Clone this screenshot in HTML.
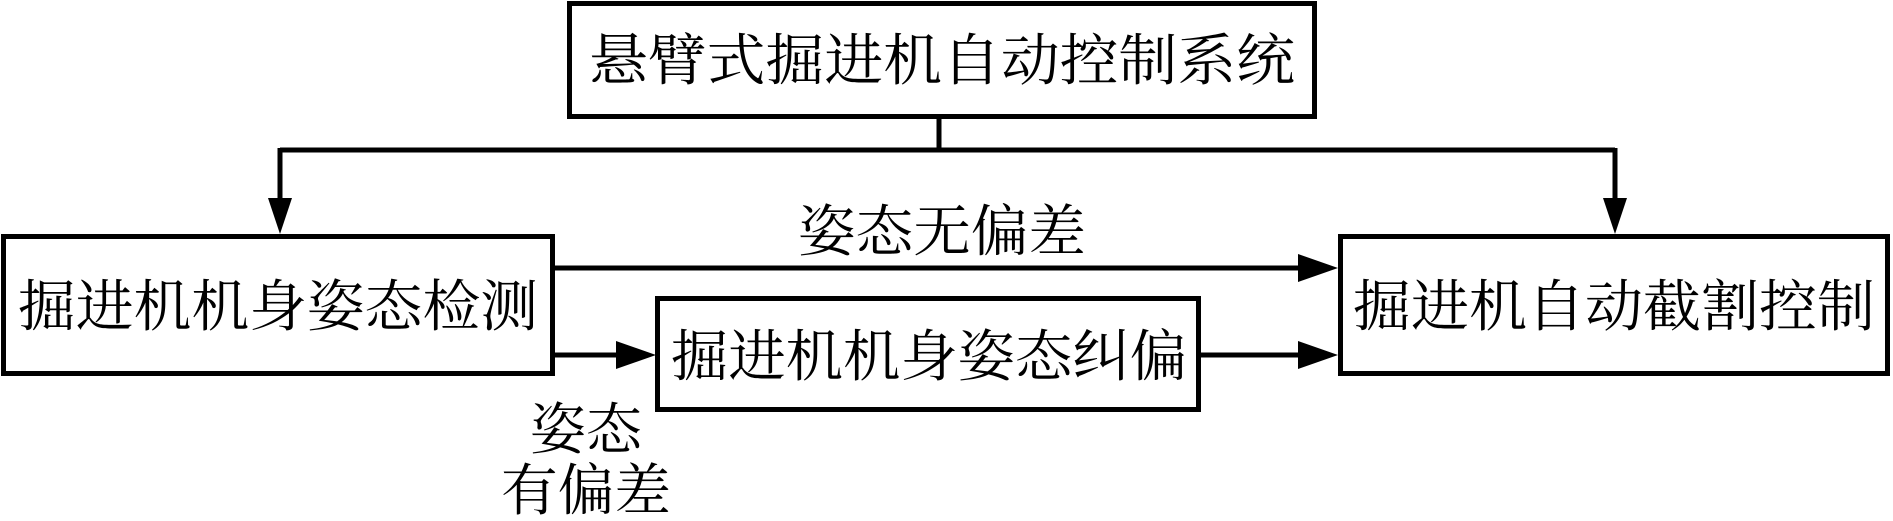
<!DOCTYPE html>
<html><head><meta charset="utf-8"><style>
html,body{margin:0;padding:0;background:#fff;}
svg{display:block}
text{font-family:"Liberation Serif","Noto Serif CJK SC",serif;font-size:56px;fill:#000;}
</style></head><body>
<svg width="1893" height="521" viewBox="0 0 1893 521">
<g fill="none" stroke="#000" stroke-width="5">
<rect x="569.5" y="3.5" width="745" height="113"/>
<rect x="3.5" y="236.5" width="549" height="137"/>
<rect x="1340.5" y="236.5" width="547" height="137"/>
<rect x="657.5" y="298.5" width="541" height="111"/>
<path d="M939 118V150M280 150H1615M280 148V200M1615 148V200"/>
<path d="M553 268H1300M553 355H620M1199 355H1300"/>
</g>
<g fill="#000">
<polygon points="268,198 292,198 280,234"/>
<polygon points="1603,198 1627,198 1615,234"/>
<polygon points="1298,254 1298,282 1338,268"/>
<polygon points="1298,341 1298,369 1338,355"/>
<polygon points="616,341 616,369 656,355"/>
</g>
<text x="942" y="80" text-anchor="middle" textLength="706" lengthAdjust="spacingAndGlyphs">悬臂式掘进机自动控制系统</text>
<text x="278" y="326" text-anchor="middle" textLength="520" lengthAdjust="spacingAndGlyphs">掘进机机身姿态检测</text>
<text x="1614" y="326" text-anchor="middle" textLength="522" lengthAdjust="spacingAndGlyphs">掘进机自动截割控制</text>
<text x="929" y="376" text-anchor="middle" textLength="516" lengthAdjust="spacingAndGlyphs">掘进机机身姿态纠偏</text>
<text x="942" y="251" text-anchor="middle" textLength="288" lengthAdjust="spacingAndGlyphs">姿态无偏差</text>
<text x="586" y="449" text-anchor="middle" textLength="112" lengthAdjust="spacingAndGlyphs">姿态</text>
<text x="586" y="510" text-anchor="middle" textLength="170" lengthAdjust="spacingAndGlyphs">有偏差</text>
</svg>
</body></html>
